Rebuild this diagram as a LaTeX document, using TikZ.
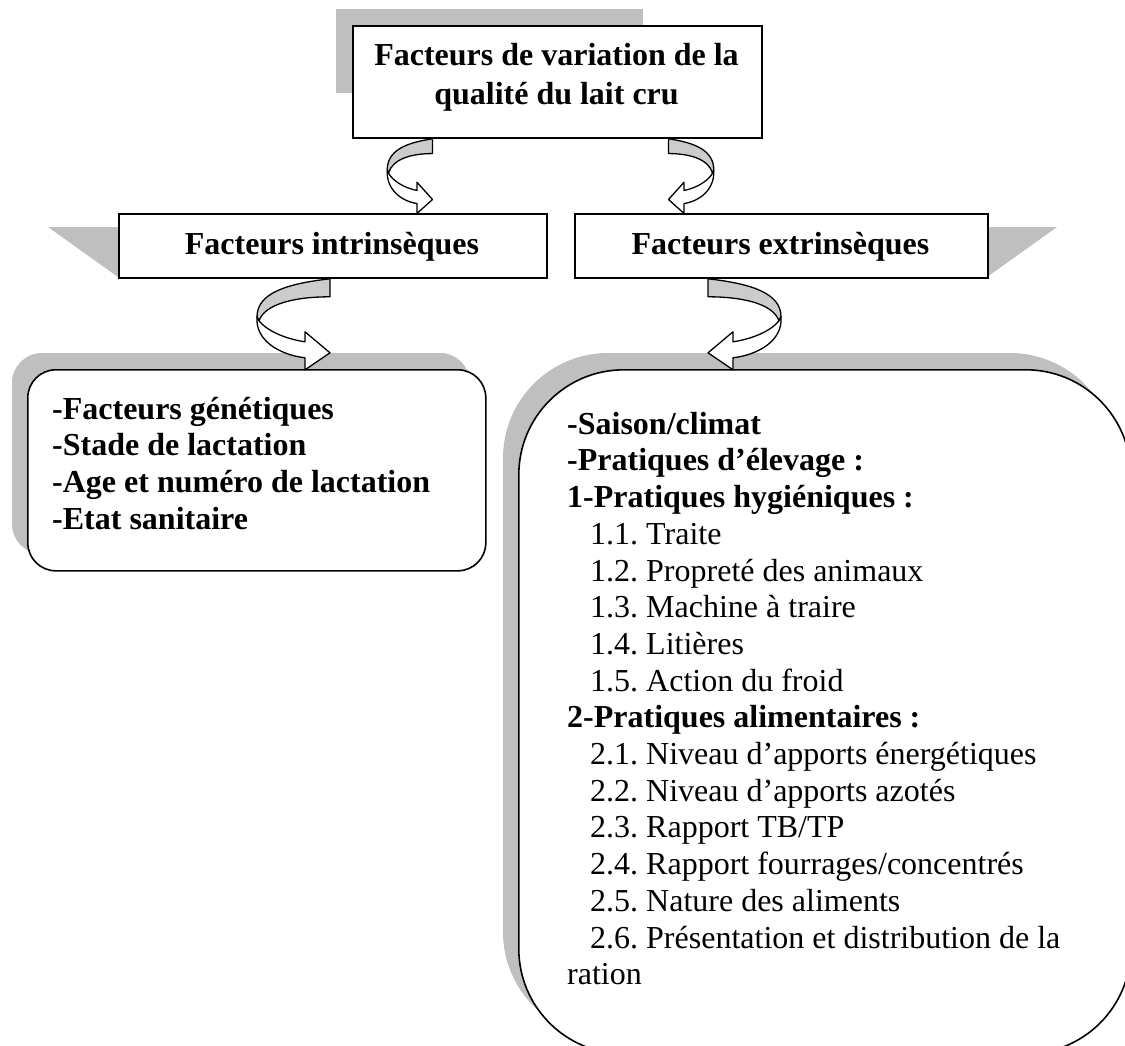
\documentclass[tikz,border=0pt]{standalone}
\usepackage{fontspec}
\setmainfont{Liberation Serif}
\usetikzlibrary{calc}

\tikzset{
  greyshadow/.style = {fill=black!25, draw=none},
  framebox/.style = {draw, line width = 1.8pt, fill=white, inner sep=0pt},
  listbox/.style = {draw, line width = 1.6pt, fill=white, inner sep=0pt},
  ribbon/.style = {draw, line width = 1.3pt, fill=white, line join=round},
  ribbonback/.style = {ribbon, fill=black!20},
  bigtext/.style = {font=\fontsize{32}{36.7}\selectfont\frenchspacing, inner sep=0pt},
  boldtext/.style = {font=\fontsize{32}{36.7}\selectfont\bfseries, inner sep=0pt},
  ribbonarrow/.pic = {
    \draw[ribbonback] (25,0) -- (25,18) .. controls (-10,18) and (-40,25) .. (-46,42) -- (-48,38) .. controls (-48,15) and (-20,5) .. (25,0) -- cycle;
    \draw[ribbon] (-46,42) .. controls (-38,52) and (-20,60) .. (0,63) -- (0,53) -- (25,74) -- (0,91) -- (0,79) .. controls (-25,76) and (-50,62) .. (-48,38) -- cycle;
  }
}

\begin{document}
\begin{tikzpicture}[x=1pt, y=-1pt]
  \useasboundingbox (0,0) rectangle (1125,1045);
  \clip (0,0) rectangle (1125,1045);

  % shadows
  \fill[greyshadow] (336,9) rectangle (643,93);
  \fill[greyshadow] (48,227) -- (118,227) -- (118,277) -- cycle;
  \fill[greyshadow] (987,227) -- (1057,227) -- (987,277) -- cycle;
  \fill[greyshadow, rounded corners=30pt] (12,353) rectangle (470,554);
  \fill[greyshadow, rounded corners=105pt] (503,353) rectangle (1115,1037);

  % boxes
  \node[framebox, anchor=north west, minimum width=409pt, minimum height=112pt] (title) at (352,25) {};
  \node[framebox, anchor=north west, minimum width=428pt, minimum height=64pt] (intr) at (118,213) {};
  \node[framebox, anchor=north west, minimum width=413pt, minimum height=64pt] (extr) at (574,213) {};
  \node[listbox, rounded corners=28pt, anchor=north west, minimum width=458pt, minimum height=201pt] (intrlist) at (27,369) {};
  \node[listbox, rounded corners=105pt, anchor=north west, minimum width=612pt, minimum height=684pt] (extrlist) at (518,369) {};

  % curved arrows
  \pic[xscale=0.62, yscale=0.82] at ($(title.south west)+(65,0)$) {ribbonarrow};
  \pic[xscale=-0.62, yscale=0.82] at ($(title.south west)+(332,0)$) {ribbonarrow};
  \pic at ($(intr.south west)+(187,0)$) {ribbonarrow};
  \pic[xscale=-1] at ($(extr.south west)+(159,0)$) {ribbonarrow};

  % texts
  \node[boldtext, anchor=base] (titleone) at (556.5,65) {Facteurs de variation de la};
  \node[boldtext, anchor=base] (titletwo) at (556.5,104) {qualité du lait cru};
  \node[boldtext, anchor=base] (intrtext) at (332,254) {Facteurs intrinsèques};
  \node[boldtext, anchor=base] (extrtext) at (780.5,254) {Facteurs extrinsèques};
  \node[boldtext, anchor=north west, align=left] (intrlisttext) at (52,393.3) {\strut-Facteurs génétiques\\
    -Stade de lactation\\
    -Age et numéro de lactation\\
    -Etat sanitaire};
  \node[bigtext, anchor=north west, align=left] (extrlisttext) at (567,408.3) {\strut\textbf{-Saison/climat}\\
    \textbf{-Pratiques d’élevage :}\\
    \textbf{1-Pratiques hygiéniques :}\\
    \hspace*{23pt}1.1. Traite\\
    \hspace*{23pt}1.2. Propreté des animaux\\
    \hspace*{23pt}1.3. Machine à traire\\
    \hspace*{23pt}1.4. Litières\\
    \hspace*{23pt}1.5. Action du froid\\
    \textbf{2-Pratiques alimentaires :}\\
    \hspace*{23pt}2.1. Niveau d’apports énergétiques\\
    \hspace*{23pt}2.2. Niveau d’apports azotés\\
    \hspace*{23pt}2.3. Rapport TB/TP\\
    \hspace*{23pt}2.4. Rapport fourrages/concentrés\\
    \hspace*{23pt}2.5. Nature des aliments\\
    \hspace*{23pt}2.6. Présentation et distribution de la\\
    ration};
\end{tikzpicture}
\end{document}
